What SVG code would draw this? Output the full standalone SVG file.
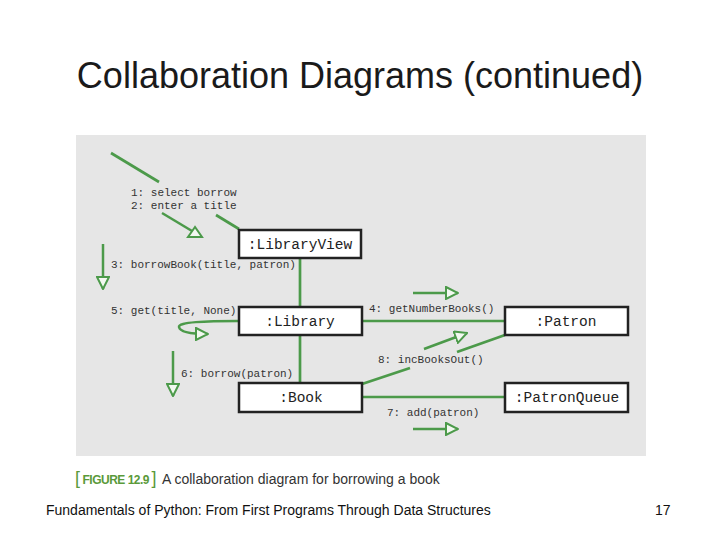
<svg xmlns="http://www.w3.org/2000/svg" width="720" height="540" viewBox="0 0 720 540">
<style>
.title{font-family:"Liberation Sans",Arial,sans-serif;font-size:36px;fill:#1a1a1a}
.foot{font-family:"Liberation Sans",Arial,sans-serif;font-size:14px;fill:#111}
.lbl{font-family:"Liberation Mono","Courier New",monospace;font-size:11px;fill:#333}
.node rect{fill:#fff;stroke:#222;stroke-width:2.5}
.node text{font-family:"Liberation Mono","Courier New",monospace;font-size:14.5px;fill:#222;text-anchor:middle}
.ln{stroke:#4c9a4a;stroke-width:2.7;fill:none}
.ar{stroke:#4c9a4a;stroke-width:2.5;fill:none}
.tri{fill:#f2f8f0;stroke:#4c9a4a;stroke-width:2}
.cap{font-family:"Liberation Sans",Arial,sans-serif}
</style>
<defs>
<marker id="open" markerUnits="userSpaceOnUse" markerWidth="14" markerHeight="14" viewBox="-1 -1 14 14" refX="12" refY="6" orient="auto">
<path d="M0,0 L12,6 L0,12 Z" fill="#f2f8f0" stroke="#4c9a4a" stroke-width="2"/>
</marker>
</defs>
<rect x="0" y="0" width="720" height="540" fill="#fff"/>
<text class="title" x="360" y="88" text-anchor="middle">Collaboration Diagrams (continued)</text>
<rect x="76" y="135" width="570" height="321" fill="#e6e6e6"/>

<g id="connectors">
<line class="ln" x1="111" y1="153" x2="159" y2="182" stroke-width="2.3"/>
<line class="ln" x1="216" y1="215" x2="239" y2="229" stroke-width="2.3"/>
<line class="ln" x1="300" y1="258" x2="300" y2="307"/>
<line class="ln" x1="300" y1="335" x2="300" y2="383"/>
<line class="ln" x1="362" y1="321" x2="505" y2="321"/>
<line class="ln" x1="362" y1="397" x2="505" y2="397"/>
<line class="ln" x1="362" y1="384" x2="410" y2="368" stroke-width="2.3"/>
<line class="ln" x1="457" y1="352" x2="505" y2="335" stroke-width="2.3"/>

<line class="ar" x1="162" y1="213" x2="192" y2="231"/>
<polygon class="tri" points="195,227 188,237 202,237"/>
<line class="ar" x1="103" y1="244" x2="103" y2="289" marker-end="url(#open)"/>
<path class="ar" d="M239,321 C205,321 178,322 179,327 C180,332 192,334 208,334" marker-end="url(#open)"/>
<line class="ar" x1="173" y1="351" x2="173" y2="396" marker-end="url(#open)"/>
<line class="ar" x1="413" y1="293" x2="458" y2="293" marker-end="url(#open)"/>
<line class="ar" x1="424" y1="349" x2="467" y2="333" marker-end="url(#open)"/>
<line class="ar" x1="413" y1="429" x2="458" y2="429" marker-end="url(#open)"/>
</g>

<g id="labels">
<text class="lbl" x="131" y="196">1: select borrow</text>
<text class="lbl" x="131" y="209">2: enter a title</text>
<text class="lbl" x="111" y="268">3: borrowBook(title, patron)</text>
<text class="lbl" x="369" y="312">4: getNumberBooks()</text>
<text class="lbl" x="111" y="314">5: get(title, None)</text>
<text class="lbl" x="181" y="377">6: borrow(patron)</text>
<text class="lbl" x="378" y="363">8: incBooksOut()</text>
<text class="lbl" x="387" y="416">7: add(patron)</text>
</g>

<g id="libraryview" class="node"><rect x="239" y="230" width="122" height="28"/><text x="300" y="249">:LibraryView</text></g>
<g id="library" class="node"><rect x="239" y="307" width="123" height="28"/><text x="300" y="326">:Library</text></g>
<g id="book" class="node"><rect x="239" y="383" width="123" height="29"/><text x="301" y="402">:Book</text></g>
<g id="patron" class="node"><rect x="505" y="307" width="123" height="28"/><text x="566" y="326">:Patron</text></g>
<g id="patronqueue" class="node"><rect x="505" y="383" width="123" height="29"/><text x="567" y="402">:PatronQueue</text></g>

<g id="caption">
<text class="cap" y="484"><tspan x="75" font-size="18" fill="#5a9a3a">[</tspan><tspan x="82.5" font-size="12" font-weight="bold" fill="#5a9a3a" letter-spacing="-0.5">FIGURE 12.9</tspan><tspan x="151.5" font-size="18" fill="#5a9a3a">]</tspan><tspan x="162" font-size="14" fill="#333">A collaboration diagram for borrowing a book</tspan></text>
</g>

<text class="foot" x="46" y="515">Fundamentals of Python: From First Programs Through Data Structures</text>
<text class="foot" x="655" y="515">17</text>
</svg>
